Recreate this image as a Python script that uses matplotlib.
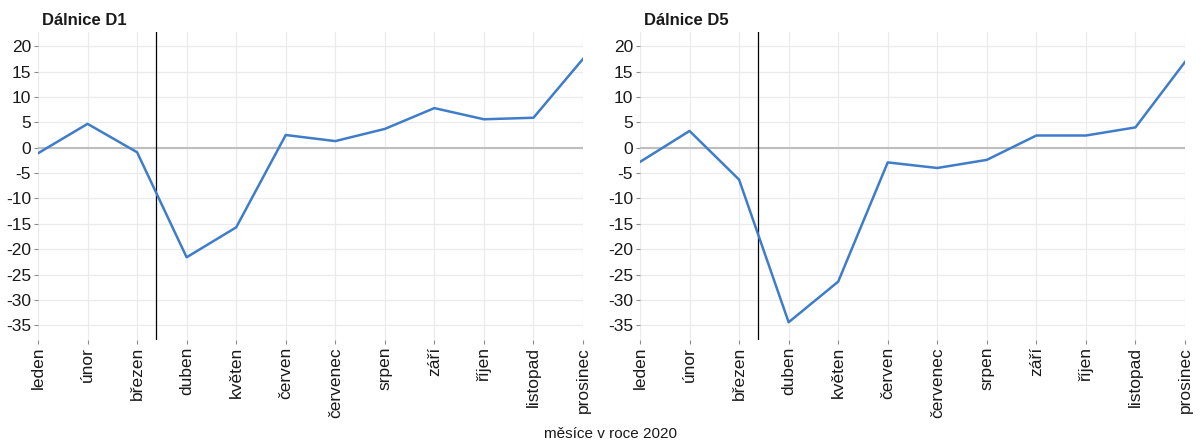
import matplotlib
matplotlib.use("Agg")
import matplotlib.pyplot as plt

months = ["leden", "únor", "březen", "duben", "květen", "červen",
          "červenec", "srpen", "září", "říjen", "listopad", "prosinec"]
d1 = [-1.1, 4.7, -0.9, -21.6, -15.7, 2.5, 1.3, 3.7, 7.8, 5.6, 5.9, 17.5]
d5 = [-2.8, 3.3, -6.3, -34.4, -26.4, -2.9, -4.0, -2.4, 2.4, 2.4, 4.0, 16.9]
titles = ["Dálnice D1", "Dálnice D5"]
vline_x = 2.39  # nouzový stav, 12. března
yticks = list(range(-35, 25, 5))

plt.rcParams["font.family"] = ["Liberation Sans", "DejaVu Sans"]

fig = plt.figure(figsize=(12.03, 4.41), dpi=100)
lefts = [38 / 1203, 640 / 1203]
for left, vals, title in zip(lefts, [d1, d5], titles):
    ax = fig.add_axes([left, 101 / 441, 545 / 1203, 308 / 441])
    x = range(len(months))
    ax.plot(x, vals, color="#3F7DC9", lw=1.8, zorder=3)
    ax.axhline(0, color="#BEBEBE", lw=1.5, zorder=2)
    ax.axvline(vline_x, color="black", lw=0.9, zorder=2)
    ax.set_xlim(0, 11)
    ax.set_ylim(-37.9, 22.8)
    ax.set_xticks(list(x))
    ax.set_xticklabels(months, rotation=90, fontsize=12.5, color="#1a1a1a")
    ax.set_yticks(yticks)
    ax.set_yticklabels([str(v) for v in yticks], fontsize=12.5, color="#1a1a1a")
    ax.grid(True, color="#EBEBEB", lw=0.9, zorder=0)
    ax.set_axisbelow(True)
    for s in ax.spines.values():
        s.set_visible(False)
    ax.tick_params(length=3, width=0.8, color="#8c8c8c", pad=2)
    ax.set_title(title, loc="left", fontsize=12, fontweight="bold",
                 color="#1a1a1a", pad=5, x=0.008)

fig.text(610 / 1203, 7 / 441, "měsíce v roce 2020", ha="center", va="center",
         fontsize=11, color="#1a1a1a")

fig.savefig("out.png", dpi=100)
